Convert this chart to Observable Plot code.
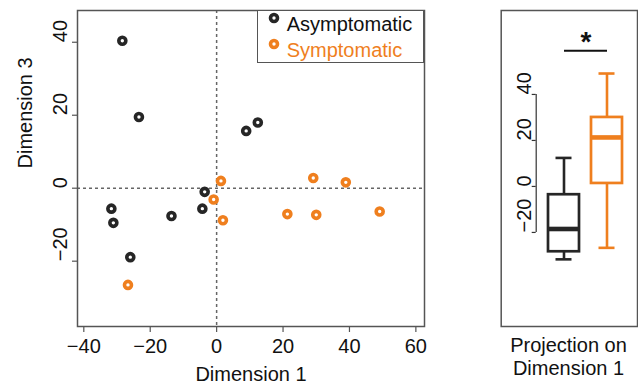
<!DOCTYPE html>
<html>
<head>
<meta charset="utf-8">
<script src="https://cdn.jsdelivr.net/npm/d3@7"></script>
<script src="https://cdn.jsdelivr.net/npm/@observablehq/plot@0.6"></script>
<style>
  html, body { margin: 0; padding: 0; background: #fff; }
  #wrap { position: relative; width: 638px; height: 385px; overflow: hidden; font-family: "Liberation Sans", Arial, sans-serif; color: #111; }
  #wrap svg { position: absolute; top: 0; }
  .legend { position: absolute; left: 256.7px; top: 10px; width: 167.3px; height: 53px; box-sizing: border-box; border: 1.5px solid #555; background: #fff; }
  .lg-item { position: absolute; left: 0; height: 26px; line-height: 26px; font-size: 20px; white-space: nowrap; }
  .lg-item svg { position: absolute !important; left: 9px; top: 6px; }
  .lg-item span { position: absolute; left: 29px; top: 0; }
  .boxlabel { position: absolute; left: 500px; width: 137px; top: 333.5px; text-align: center; font-size: 20px; line-height: 23px; }
</style>
</head>
<body>
<div id="wrap"></div>
<script>
// ---------- data ----------
const groups = ["Asymptomatic", "Symptomatic"];
const colors = ["#262626", "#ef7f1e"];
const asymDim1 = [-28.4, -23.4, 8.9, 12.4, -3.6, -4.3, -13.6, -31.7, -31.1, -26.0];
const asymDim3 = [40.4, 19.5, 15.7, 18.0, -1.0, -5.6, -7.6, -5.6, -9.5, -18.9];
const sympDim1 = [1.3, -0.9, 1.9, -26.7, 21.3, 30.0, 29.1, 38.9, 49.1];
const sympDim3 = [2.0, -3.1, -8.8, -26.5, -7.1, -7.3, 2.8, 1.6, -6.4];
const xTicks = [-40, -20, 0, 20, 40, 60];
const yTicks = [-20, 0, 20, 40];
const boxTicks = [-20, 0, 20, 40];
const xLabel = "Dimension 1";
const yLabel = "Dimension 3";
const boxLabel = ["Projection on", "Dimension 1"];
const sigMark = "*";
const sigY = 59;      // data position of the significance bar
const sigStarY = 65;  // data position of the star

const points = [
  ...asymDim1.map((x, i) => ({group: groups[0], x, y: asymDim3[i]})),
  ...sympDim1.map((x, i) => ({group: groups[1], x, y: sympDim3[i]}))
];

const fmt = d => d < 0 ? "\u2212" + Math.abs(d) : String(d);
const font = {fontFamily: "'Liberation Sans', Arial, sans-serif", fontSize: "20px", color: "#111", background: "transparent", overflow: "visible"};
const frameColor = "#555";
const dashColor = "#666";

const wrap = document.getElementById("wrap");

// ---------- main scatter ----------
const mW = 450, mH = 385, mL = 77, mR = 26, mT = 10, mB = 59;
const scatter = Plot.plot({
  width: mW, height: mH,
  marginLeft: mL, marginRight: mR, marginTop: mT, marginBottom: mB,
  style: font,
  x: {domain: [-41.9, 62.6]},
  y: {domain: [-37.9, 48.7]},
  color: {domain: groups, range: colors},
  marks: [
    Plot.ruleX([0], {stroke: dashColor, strokeWidth: 1.5, strokeDasharray: "3,3"}),
    Plot.ruleY([0], {stroke: dashColor, strokeWidth: 1.5, strokeDasharray: "3,3"}),
    Plot.dot(points, {x: "x", y: "y", r: 3.5, stroke: "group", strokeWidth: 3.6, fill: "white"}),
    Plot.frame({stroke: frameColor, strokeWidth: 1.5}),
    Plot.axisX({ticks: xTicks, tickSize: 6, tickPadding: 6, tickFormat: fmt, label: null, stroke: frameColor, strokeWidth: 1.2}),
    Plot.axisY({ticks: yTicks, tickSize: 5, tickFormat: () => "", label: null, stroke: frameColor, strokeWidth: 1.2}),
    Plot.text(yTicks, {y: d => d, text: fmt, frameAnchor: "left", dx: -17, rotate: -90, fill: "#111"}),
    Plot.text([xLabel], {text: d => d, frameAnchor: "bottom", dy: 54, fill: "#111"}),
    Plot.text([yLabel], {text: d => d, frameAnchor: "left", dx: -52, rotate: -90, fill: "#111"})
  ]
});
scatter.style.left = "0px";
wrap.appendChild(scatter);

// legend
const legend = document.createElement("div");
legend.className = "legend";
groups.forEach((g, i) => {
  const item = document.createElement("div");
  item.className = "lg-item";
  item.style.top = (i * 26) + "px";
  item.innerHTML = `<svg width="14" height="14"><circle cx="7" cy="7" r="3.5" fill="white" stroke="${colors[i]}" stroke-width="3.6"/></svg><span style="color:${i === 0 ? "#111" : colors[i]}">${g}</span>`;
  legend.appendChild(item);
});
wrap.appendChild(legend);

// ---------- box plot ----------
function fivenum(values) {
  const x = values.slice().sort(d3.ascending);
  const n = x.length;
  const n4 = Math.floor((n + 3) / 2) / 2;
  const d = [1, n4, (n + 1) / 2, n + 1 - n4, n];
  return d.map(k => 0.5 * (x[Math.floor(k) - 1] + x[Math.ceil(k) - 1]));
}
const stats = [asymDim1, sympDim1].map((v, i) => {
  const [mn, q1, med, q3, mx] = fivenum(v);
  const iqr = q3 - q1;
  const lo = d3.min(v.filter(d => d >= q1 - 1.5 * iqr));
  const hi = d3.max(v.filter(d => d <= q3 + 1.5 * iqr));
  return {group: groups[i], q1, med, q3, lo, hi};
});

const bW = 158, bH = 385, bL = 55.7, bR = 1, bT = 10, bB = 59;
const frameLeft = 20.7;
const ruleCenter = (bL + bW - bR) / 2;
const boxes = Plot.plot({
  width: bW, height: bH,
  marginLeft: bL, marginRight: bR, marginTop: bT, marginBottom: bB,
  style: font,
  x: {domain: groups, range: [61, 149], paddingInner: 0.2727, paddingOuter: 0.1364, axis: null},
  y: {domain: [-60.9, 76.5]},
  color: {domain: groups, range: colors},
  marks: [
    Plot.frame({stroke: frameColor, strokeWidth: 1.5, insetLeft: -(bL - frameLeft)}),
    Plot.ruleX(stats, {x: "group", y1: "lo", y2: "hi", stroke: "group", strokeWidth: 2.6}),
    Plot.barY(stats, {x: "group", y1: "q1", y2: "q3", fill: "white", stroke: "group", strokeWidth: 2.7}),
    Plot.tickY(stats, {x: "group", y: "med", stroke: "group", strokeWidth: 4.6}),
    Plot.tickY(stats, {x: "group", y: "lo", stroke: "group", strokeWidth: 2.6, insetLeft: 7.5, insetRight: 7.5}),
    Plot.tickY(stats, {x: "group", y: "hi", stroke: "group", strokeWidth: 2.6, insetLeft: 7.5, insetRight: 7.5}),
    Plot.ruleX([0], {x: null, y1: d3.min(boxTicks), y2: d3.max(boxTicks), dx: bL - ruleCenter, stroke: "#333", strokeWidth: 1.2}),
    Plot.axisY({ticks: boxTicks, tickSize: 4, tickFormat: () => "", label: null, stroke: "#333", strokeWidth: 1.2}),
    Plot.text(boxTicks, {y: d => d, text: fmt, frameAnchor: "left", dx: -12, rotate: -90, fill: "#111"}),
    Plot.link([{a: groups[0], b: groups[1], y: sigY}], {x1: "a", x2: "b", y1: "y", y2: "y", stroke: "#111", strokeWidth: 1.8}),
    Plot.text([{a: groups[0], y: sigStarY}], {x: "a", y: "y", text: () => sigMark, dx: 22, fontSize: 28, fontWeight: "bold", fill: "#111", lineAnchor: "top", dy: -6})
  ]
});
boxes.style.left = "480px";
wrap.appendChild(boxes);

const bl = document.createElement("div");
bl.className = "boxlabel";
bl.innerHTML = boxLabel.join("<br>");
wrap.appendChild(bl);
</script>
</body>
</html>
